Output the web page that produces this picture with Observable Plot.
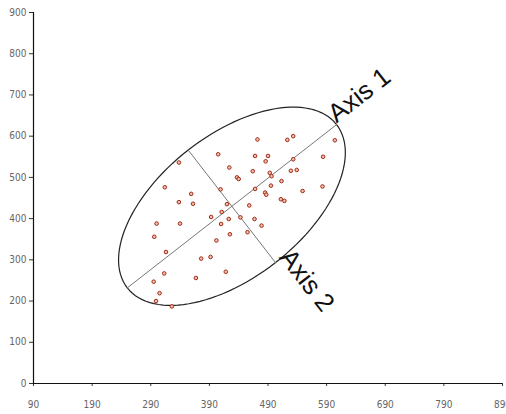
<!DOCTYPE html>
<html><head><meta charset="utf-8">
<script src="https://cdn.jsdelivr.net/npm/d3@7"></script>
<script src="https://cdn.jsdelivr.net/npm/@observablehq/plot@0.6"></script>
<style>body{margin:0;background:#fff}</style>
</head><body><div id="chart"></div>
<script>
const xTicks = [90,190,290,390,490,590,690,790,890];
const yTicks = [0,100,200,300,400,500,600,700,800,900];
const pointX = [338,314,359,338,362,405,424,409,420,411,472,523,533,604,468,490,486,533,584,464,493,496,529,539,437,440,513,495,549,583,468,485,487,512,518,458,300,340,393,423,410,425,296,402,316,376,392,418,313,367,295,305,299,326,443,467,479,455];
const pointY = [536,476,460,440,436,556,524,471,435,416,592,591,600,590,552,552,539,544,550,515,511,503,516,518,500,496,491,480,467,478,472,463,458,447,443,432,388,388,404,399,387,362,356,347,319,303,307,271,267,256,247,219,200,187,403,399,383,367];
const axis1X = [250,607];
const axis1Y = [232,628];
const axis2X = [354,503];
const axis2Y = [566,293];
const axisLabels = ["Axis 1","Axis 2"];

const points = pointX.map((x,i)=>({x, y: pointY[i]}));
const cx = (axis1X[0]+axis1X[1])/2, cy = (axis1Y[0]+axis1Y[1])/2;
const ux = (axis1X[1]-axis1X[0])/2, uy = (axis1Y[1]-axis1Y[0])/2;
const vx = (axis2X[1]-axis2X[0])/2, vy = (axis2Y[1]-axis2Y[0])/2;
const ellipse = d3.range(0, 120).map(i => {
  const t = i/120*2*Math.PI;
  return {x: cx + Math.cos(t)*ux + Math.sin(t)*vx, y: cy + Math.cos(t)*uy + Math.sin(t)*vy};
});
const a1 = axis1X.map((x,i)=>({x, y: axis1Y[i]}));
const a2 = axis2X.map((x,i)=>({x, y: axis2Y[i]}));
const label1 = [{x: axis1X[1], y: axis1Y[1], text: axisLabels[0]}];
const label2 = [{x: axis2X[1], y: axis2Y[1], text: axisLabels[1]}];

const tickFont = "Liberation Sans Narrow, DejaVu Sans Condensed, sans-serif";
const chart = Plot.plot({
  width: 506, height: 414,
  marginLeft: 33, marginRight: 4, marginTop: 12, marginBottom: 31,
  x: {domain: [90, 890]},
  y: {domain: [0, 900]},
  style: {fontFamily: "Liberation Sans, Arial, sans-serif", background: "#fff"},
  marks: [
    Plot.axisX({ticks: xTicks, tickSize: 3, tickPadding: 14, fontSize: 10, fontFamily: tickFont, fill: "#666", stroke: "#333", label: null}),
    Plot.axisY({ticks: yTicks, tickSize: 4, tickPadding: 3, fontSize: 10, fontFamily: tickFont, fill: "#666", stroke: "#333", label: null}),
    Plot.ruleX([90], {stroke: "#111", strokeWidth: 1.2}),
    Plot.ruleY([0], {stroke: "#111", strokeWidth: 1.2}),
    Plot.line(ellipse, {x: "x", y: "y", curve: "linear-closed", stroke: "#222", strokeWidth: 1.2}),
    Plot.line(a1, {x: "x", y: "y", stroke: "#777", strokeWidth: 1}),
    Plot.line(a2, {x: "x", y: "y", stroke: "#777", strokeWidth: 1}),
    Plot.dot(points, {x: "x", y: "y", r: 1.8, stroke: "#a02818", fill: "#f0c0a8", strokeWidth: 1}),
    Plot.text(label1, {x: "x", y: "y", text: "text", rotate: -38, textAnchor: "start", lineAnchor: "bottom", dy: -1, fontSize: 26, fill: "#111"}),
    Plot.text(label2, {x: "x", y: "y", text: "text", rotate: 52, textAnchor: "start", lineAnchor: "bottom", dx: 3, dy: -5, fontSize: 26, fill: "#111"})
  ]
});
document.getElementById("chart").appendChild(chart);
</script>
</body></html>
